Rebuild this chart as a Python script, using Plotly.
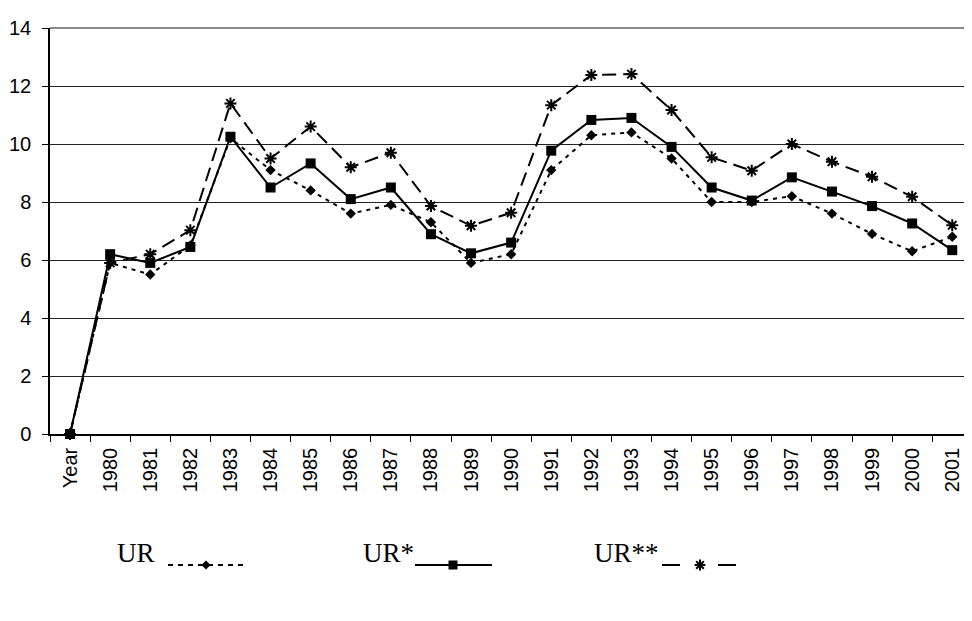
import plotly.graph_objects as go

# ---- data ----
categories = ["Year", "1980", "1981", "1982", "1983", "1984", "1985", "1986", "1987",
              "1988", "1989", "1990", "1991", "1992", "1993", "1994", "1995", "1996",
              "1997", "1998", "1999", "2000", "2001"]
ur = [0, 5.9, 5.5, 6.5, 10.2, 9.1, 8.4, 7.6, 7.9, 7.3, 5.9, 6.2, 9.1, 10.3, 10.4,
      9.5, 8.0, 8.0, 8.2, 7.6, 6.9, 6.3, 6.8]
ur_star = [0, 6.2, 5.9, 6.45, 10.25, 8.5, 9.33, 8.1, 8.5, 6.89, 6.23, 6.6, 9.77,
           10.83, 10.9, 9.9, 8.5, 8.05, 8.85, 8.36, 7.86, 7.26, 6.34]
ur_2star = [0, 5.9, 6.2, 7.03, 11.4, 9.5, 10.6, 9.2, 9.7, 7.86, 7.18, 7.63, 11.34,
            12.38, 12.41, 11.17, 9.54, 9.08, 10.0, 9.39, 8.87, 8.18, 7.2]
series_names = ["UR", "UR*", "UR**"]
y_ticks = [0, 2, 4, 6, 8, 10, 12, 14]

OFF = 8  # page body margin: the figure is drawn 8px right/down of the window corner
W, H = 972 - 2 * OFF, 621 - 2 * OFF  # visible page area inside the body margins
ML, MR, MT, MB = 50 - OFF, 0, 28 - OFF, 0
plot_w = W - ML - MR
plot_h = H - MT - MB
y0_px = 434 - OFF
main_bottom = (H - MB - y0_px) / plot_h
leg_top_frac = 0.25
cat_px = 40.1  # category spacing; the chart runs a little past the right edge

fig = go.Figure()

styles = [
    dict(dash="4px,5px", symbol="diamond", size=8),
    dict(dash="solid", symbol="square", size=10),
    dict(dash="14px,7px", symbol="asterisk-open", size=10),
]
for name, vals, st in zip(series_names, [ur, ur_star, ur_2star], styles):
    fig.add_trace(go.Scatter(
        x=categories, y=vals, name=name, mode="lines+markers",
        line=dict(color="black", width=2, dash=st["dash"]),
        marker=dict(symbol=st["symbol"], size=st["size"], color="black",
                    line=dict(color="black", width=2 if "open" in st["symbol"] else 0)),
        showlegend=False, cliponaxis=False,
    ))

# ---- custom legend (text left of sample), coordinates in window pixels ----
leg_items = [
    # text x, line start, line end, marker x
    (115, 168, 245, 206),
    (361, 415, 492, 453),
    (592, 662, 736, 700),
]
leg_line_y = 565
leg_text_y = 553
leg_dash = ["5px,5px", "solid", "18px,38px"]
leg_sizes = [7, 9, 9]
for (tx, x0, x1, mx), st, dsh, sz, name in zip(leg_items, styles, leg_dash, leg_sizes, series_names):
    fig.add_trace(go.Scatter(
        x=[x0, x1], y=[leg_line_y, leg_line_y], mode="lines",
        line=dict(color="black", width=2, dash=dsh),
        xaxis="x2", yaxis="y2", showlegend=False, hoverinfo="skip"))
    fig.add_trace(go.Scatter(
        x=[mx], y=[leg_line_y], mode="markers",
        marker=dict(symbol=st["symbol"], size=sz, color="black",
                    line=dict(color="black", width=2 if "open" in st["symbol"] else 0)),
        xaxis="x2", yaxis="y2", showlegend=False, hoverinfo="skip"))
    fig.add_annotation(x=tx, y=leg_text_y, xref="x2", yref="y2", text=name, showarrow=False,
                       xanchor="left", yanchor="middle",
                       font=dict(family="Liberation Serif", size=27, color="black"))

fig.update_layout(
    template="none",
    width=W, height=H,
    margin=dict(l=ML, r=MR, t=MT, b=MB, pad=0),
    paper_bgcolor="white", plot_bgcolor="white",
    font=dict(family="Liberation Sans, Arial", size=20, color="black"),
    xaxis=dict(
        type="category", categoryorder="array", categoryarray=categories,
        range=[-0.5, -0.5 + plot_w / cat_px], automargin=False,
        tickangle=-90, ticks="outside", ticklen=6, tickcolor="black", tickwidth=1,
        tickson="boundaries", showgrid=False,
        showline=True, linecolor="black", linewidth=1.5,
        ticklabelstandoff=4, anchor="y", zeroline=False,
    ),
    yaxis=dict(
        domain=[main_bottom, 1], range=[0, 14], tickvals=y_ticks, automargin=False,
        ticks="outside", ticklen=6, tickcolor="black", tickwidth=1,
        showgrid=True, gridcolor="#222", gridwidth=1,
        showline=True, linecolor="black", linewidth=1.5,
        zeroline=False, ticklabelstandoff=7, anchor="x",
    ),
    xaxis2=dict(domain=[0, 1], range=[ML + OFF, W - MR + OFF], visible=False, anchor="y2",
                fixedrange=True, automargin=False),
    yaxis2=dict(domain=[0, leg_top_frac],
                range=[H - MB + OFF, H - MB + OFF - leg_top_frac * plot_h],
                visible=False, anchor="x2", fixedrange=True, automargin=False),
    shapes=[dict(type="line", xref="paper", yref="paper", x0=0, x1=1, y0=1, y1=1,
                 line=dict(color="#888", width=2))],
)

fig.write_html("out.html")
